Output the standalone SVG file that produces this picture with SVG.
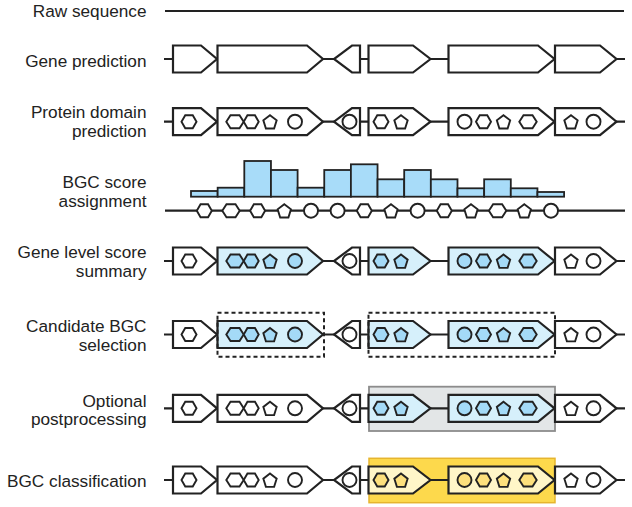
<svg xmlns="http://www.w3.org/2000/svg" xmlns:xlink="http://www.w3.org/1999/xlink" width="632" height="507" viewBox="0 0 632 507">
<style>
text{font-family:"Liberation Sans",Arial,sans-serif;font-size:17.2px;fill:#222;text-anchor:end}
.bb{stroke:#222;stroke-width:2.2;fill:none}
.g{stroke:#222;stroke-width:2.2;fill:#fff;stroke-linejoin:miter}
.gb{fill:#d6f0fb}
.gy{fill:#fff6c8}
.s{stroke:#222;stroke-width:1.9;fill:#fff}
.sb{fill:#a4daf7}
.sy{fill:#fde07c}
.bar{fill:#a8dcf9;stroke:#222;stroke-width:1.8}
.dash{fill:none;stroke:#222;stroke-width:2;stroke-dasharray:4 3}
</style>
<defs>
<path id="g1" d="M173,-13.5H201L217,0L201,13.5H173Z"/>
<path id="g2" d="M217.5,-13.5H307L323,0L307,13.5H217.5Z"/>
<path id="g3" d="M360,-13.5H352L334,0L352,13.5H360Z"/>
<path id="g4" d="M368.5,-13.5H413L430.5,0L413,13.5H368.5Z"/>
<path id="g5" d="M448.5,-13.5H538L554.5,0L538,13.5H448.5Z"/>
<path id="g6" d="M555,-13.5H600L616.5,0L600,13.5H555Z"/>
<polygon id="hx" points="-7.5,0 -3.75,-6.5 3.75,-6.5 7.5,0 3.75,6.5 -3.75,6.5"/>
<polygon id="hw" points="-8.7,0 -4.5,-6.5 4.5,-6.5 8.7,0 4.5,6.5 -4.5,6.5"/>
<polygon id="pt" points="0,-7 6.66,-1.84 4.11,6.33 -4.11,6.33 -6.66,-1.84"/>
<circle id="ci" r="7"/>
</defs>

<g id="labels">
<text x="146.5" y="17">Raw sequence</text>
<text x="146.5" y="66.5">Gene prediction</text>
<text x="146.5" y="118.3">Protein domain</text>
<text x="146.5" y="137.3">prediction</text>
<text x="146.5" y="188.3">BGC score</text>
<text x="146.5" y="207.3">assignment</text>
<text x="146.5" y="258.3">Gene level score</text>
<text x="146.5" y="277.3">summary</text>
<text x="146.5" y="331.7">Candidate BGC</text>
<text x="146.5" y="350.7">selection</text>
<text x="146.5" y="406.7">Optional</text>
<text x="146.5" y="425">postprocessing</text>
<text x="146.5" y="486.7">BGC classification</text>
</g>

<g id="raw-sequence">
<line class="bb" x1="165" y1="11" x2="624" y2="11"/>
</g>

<g id="gene-prediction" transform="translate(0,59)">
<line class="bb" x1="164" y1="0" x2="625" y2="0"/>
<use href="#g1" class="g"/><use href="#g2" class="g"/><use href="#g3" class="g"/>
<use href="#g4" class="g"/><use href="#g5" class="g"/><use href="#g6" class="g"/>
</g>

<g id="protein-domain" transform="translate(0,121.7)">
<line class="bb" x1="164" y1="0" x2="625" y2="0"/>
<use href="#g1" class="g"/><use href="#g2" class="g"/><use href="#g3" class="g"/>
<use href="#g4" class="g"/><use href="#g5" class="g"/><use href="#g6" class="g"/>
<use href="#hx" class="s" x="189"/>
<use href="#hw" class="s" x="235"/><use href="#hx" class="s" x="251.2"/><use href="#pt" class="s" x="270" y="0.5"/><use href="#ci" class="s" x="295"/>
<use href="#ci" class="s" x="349.5"/>
<use href="#hx" class="s" x="381"/><use href="#pt" class="s" x="401" y="0.5"/>
<use href="#ci" class="s" x="464.5"/><use href="#hx" class="s" x="483.5"/><use href="#pt" class="s" x="503.5" y="0.5"/><use href="#hw" class="s" x="528"/>
<use href="#pt" class="s" x="571" y="0.5"/><use href="#ci" class="s" x="593.5"/>
</g>

<g id="bgc-score">
<rect class="bar" x="191" y="191" width="26.65" height="5.7"/>
<rect class="bar" x="217.65" y="187.7" width="26.65" height="9"/>
<rect class="bar" x="244.3" y="161" width="26.65" height="35.7"/>
<rect class="bar" x="270.95" y="170" width="26.65" height="26.7"/>
<rect class="bar" x="297.6" y="187.7" width="26.65" height="9"/>
<rect class="bar" x="324.25" y="170" width="26.65" height="26.7"/>
<rect class="bar" x="350.9" y="164.3" width="26.65" height="32.4"/>
<rect class="bar" x="377.55" y="179.3" width="26.65" height="17.4"/>
<rect class="bar" x="404.2" y="170" width="26.65" height="26.7"/>
<rect class="bar" x="430.85" y="179.3" width="26.65" height="17.4"/>
<rect class="bar" x="457.5" y="188.3" width="26.65" height="8.4"/>
<rect class="bar" x="484.15" y="179.3" width="26.65" height="17.4"/>
<rect class="bar" x="510.8" y="188.3" width="26.65" height="8.4"/>
<rect class="bar" x="537.45" y="192" width="26.65" height="4.7"/>
<g transform="translate(0,210.7)">
<line class="bb" x1="165" y1="0" x2="625" y2="0"/>
<use href="#hx" class="s" x="204.3"/>
<use href="#hw" class="s" x="231"/>
<use href="#hx" class="s" x="257.6"/>
<use href="#pt" class="s" x="284.3" y="0.5"/>
<use href="#ci" class="s" x="311"/>
<use href="#ci" class="s" x="337.6"/>
<use href="#hx" class="s" x="364.3"/>
<use href="#pt" class="s" x="391" y="0.5"/>
<use href="#ci" class="s" x="417.6"/>
<use href="#hx" class="s" x="444.3"/>
<use href="#pt" class="s" x="471" y="0.5"/>
<use href="#hw" class="s" x="497.6"/>
<use href="#pt" class="s" x="524.3" y="0.5"/>
<use href="#ci" class="s" x="551"/>
</g>
</g>

<g id="gene-level" transform="translate(0,261)">
<line class="bb" x1="164" y1="0" x2="625" y2="0"/>
<use href="#g1" class="g"/><use href="#g2" class="g gb"/><use href="#g3" class="g"/>
<use href="#g4" class="g gb"/><use href="#g5" class="g gb"/><use href="#g6" class="g"/>
<use href="#hx" class="s" x="189"/>
<use href="#hw" class="s sb" x="235"/><use href="#hx" class="s sb" x="251.2"/><use href="#pt" class="s sb" x="270" y="0.5"/><use href="#ci" class="s sb" x="295"/>
<use href="#ci" class="s" x="349.5"/>
<use href="#hx" class="s sb" x="381"/><use href="#pt" class="s sb" x="401" y="0.5"/>
<use href="#ci" class="s sb" x="464.5"/><use href="#hx" class="s sb" x="483.5"/><use href="#pt" class="s sb" x="503.5" y="0.5"/><use href="#hw" class="s sb" x="528"/>
<use href="#pt" class="s" x="571" y="0.5"/><use href="#ci" class="s" x="593.5"/>
</g>

<g id="candidate" transform="translate(0,334.5)">
<line class="bb" x1="164" y1="0" x2="625" y2="0"/>
<use href="#g1" class="g"/><use href="#g2" class="g gb"/><use href="#g3" class="g"/>
<use href="#g4" class="g gb"/><use href="#g5" class="g gb"/><use href="#g6" class="g"/>
<use href="#hx" class="s" x="189"/>
<use href="#hw" class="s sb" x="235"/><use href="#hx" class="s sb" x="251.2"/><use href="#pt" class="s sb" x="270" y="0.5"/><use href="#ci" class="s sb" x="295"/>
<use href="#ci" class="s" x="349.5"/>
<use href="#hx" class="s sb" x="381"/><use href="#pt" class="s sb" x="401" y="0.5"/>
<use href="#ci" class="s sb" x="464.5"/><use href="#hx" class="s sb" x="483.5"/><use href="#pt" class="s sb" x="503.5" y="0.5"/><use href="#hw" class="s sb" x="528"/>
<use href="#pt" class="s" x="571" y="0.5"/><use href="#ci" class="s" x="593.5"/>
<rect class="dash" x="217.5" y="-21.8" width="106.5" height="44"/>
<rect class="dash" x="368.5" y="-21.8" width="186.5" height="44"/>
</g>

<g id="postprocessing" transform="translate(0,408.3)">
<rect x="369" y="-21.6" width="186" height="44.3" fill="#e3e6e7" stroke="#8c8c8c" stroke-width="1.8"/>
<line class="bb" x1="164" y1="0" x2="625" y2="0"/>
<use href="#g1" class="g"/><use href="#g2" class="g"/><use href="#g3" class="g"/>
<use href="#g4" class="g gb"/><use href="#g5" class="g gb"/><use href="#g6" class="g"/>
<use href="#hx" class="s" x="189"/>
<use href="#hw" class="s" x="235"/><use href="#hx" class="s" x="251.2"/><use href="#pt" class="s" x="270" y="0.5"/><use href="#ci" class="s" x="295"/>
<use href="#ci" class="s" x="349.5"/>
<use href="#hx" class="s sb" x="381"/><use href="#pt" class="s sb" x="401" y="0.5"/>
<use href="#ci" class="s sb" x="464.5"/><use href="#hx" class="s sb" x="483.5"/><use href="#pt" class="s sb" x="503.5" y="0.5"/><use href="#hw" class="s sb" x="528"/>
<use href="#pt" class="s" x="571" y="0.5"/><use href="#ci" class="s" x="593.5"/>
</g>

<g id="classification" transform="translate(0,480)">
<rect x="369" y="-21.7" width="186" height="44.4" fill="#fdd94c" stroke="#e6b52e" stroke-width="1.5"/>
<line class="bb" x1="164" y1="0" x2="625" y2="0"/>
<use href="#g1" class="g"/><use href="#g2" class="g"/><use href="#g3" class="g"/>
<use href="#g4" class="g gy"/><use href="#g5" class="g gy"/><use href="#g6" class="g"/>
<use href="#hx" class="s" x="189"/>
<use href="#hw" class="s" x="235"/><use href="#hx" class="s" x="251.2"/><use href="#pt" class="s" x="270" y="0.5"/><use href="#ci" class="s" x="295"/>
<use href="#ci" class="s" x="349.5"/>
<use href="#hx" class="s sy" x="381"/><use href="#pt" class="s sy" x="401" y="0.5"/>
<use href="#ci" class="s sy" x="464.5"/><use href="#hx" class="s sy" x="483.5"/><use href="#pt" class="s sy" x="503.5" y="0.5"/><use href="#hw" class="s sy" x="528"/>
<use href="#pt" class="s" x="571" y="0.5"/><use href="#ci" class="s" x="593.5"/>
</g>
</svg>
